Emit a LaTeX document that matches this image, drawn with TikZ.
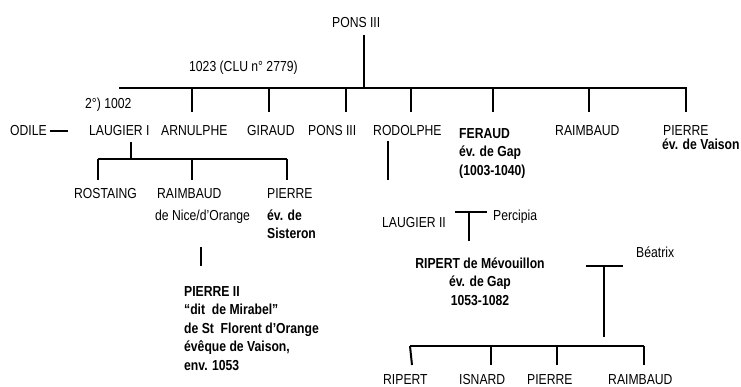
\documentclass[tikz,border=0pt]{standalone}
\usepackage{fontspec}
\setmainfont{Liberation Sans}[FakeStretch=0.84]
\begin{document}
\begin{tikzpicture}[x=1pt,y=-1pt,
  lbl/.style={inner sep=0pt,anchor=base west,align=left,font=\fontsize{14.5}{18.5}\selectfont},
  blbl/.style={lbl,font=\fontsize{14.5}{18.5}\selectfont\bfseries},
  tree/.style={line width=2pt},
  thin/.style={line width=1.3pt}]
\useasboundingbox[fill=white] (0,0) rectangle (741,386);
% ---- texts (multi-line nodes are placed by their last baseline) ----
\node[lbl] (pons0) at (332,27) {PONS III};
\node[lbl] (d1023) at (189,71) {1023 (CLU n° 2779)};
\node[lbl] (d1002) at (85,108) {2°) 1002};
\node[lbl] (odile) at (10,135.5) {ODILE};
\node[lbl] (laug1) at (89,135.5) {LAUGIER I};
\node[lbl] (arnul) at (161,135.5) {ARNULPHE};
\node[lbl] (girau) at (247,135.5) {GIRAUD};
\node[lbl] (pons3) at (308,135.5) {PONS III};
\node[lbl] (rodol) at (373,135.5) {RODOLPHE};
\node[blbl] (ferau) at (459,175) {FERAUD\\év. de Gap\\(1003-1040)};
\node[lbl] (raim1) at (555,135.5) {RAIMBAUD};
\node[lbl] (pier1) at (663,135.5) {PIERRE};
\node[blbl] (vaiso) at (662,149.5) {év. de Vaison};
\node[lbl] (rosta) at (74,198) {ROSTAING};
\node[lbl] (raim2) at (157,198) {RAIMBAUD};
\node[lbl] (nice) at (155,220) {de Nice/d’Orange};
\node[lbl] (pier2) at (267,198) {PIERRE};
\node[blbl] (siste) at (267,238.5) {év. de\\Sisteron};
\node[blbl] (pierII) at (184,370) {PIERRE II\\“dit~~de Mirabel”\\de St~~Florent d’Orange\\évêque de Vaison,\\env. 1053};
\node[lbl] (laug2) at (382,227) {LAUGIER II};
\node[lbl] (percip) at (493,220) {Percipia};
\node[blbl,anchor=base,align=center] (ripert) at (480,305) {RIPERT de Mévouillon\\év. de Gap\\1053-1082};
\node[lbl] (beatr) at (636,257) {Béatrix};
\node[lbl] (rip2) at (383,384) {RIPERT};
\node[lbl] (isnar) at (459,384) {ISNARD};
\node[lbl] (pier3) at (527,384) {PIERRE};
\node[lbl] (raim3) at (608,384) {RAIMBAUD};
% ---- coordinates ----
\coordinate (pTop) at (364,35);
\coordinate (b1L) at (119,88);
\coordinate (b1R) at (687,88);
\coordinate (dArn) at (192,112);
\coordinate (dGir) at (269,112);
\coordinate (dPon) at (346,112);
\coordinate (dRod) at (411,112);
\coordinate (dFer) at (493,112);
\coordinate (dRai) at (589,112);
\coordinate (dPie) at (686,112);
\coordinate (oA) at (50,131);
\coordinate (oB) at (68,131);
\coordinate (lTop) at (131,142);
\coordinate (b2L) at (98,159);
\coordinate (b2R) at (287,159);
\coordinate (dRos) at (98,180);
\coordinate (dRa2) at (192,180);
\coordinate (dPi2) at (287,180);
\coordinate (rA) at (201,247);
\coordinate (rB) at (201,266);
\coordinate (roA) at (388,141);
\coordinate (roB) at (388,180);
\coordinate (t1L) at (455,212);
\coordinate (t1R) at (487,212);
\coordinate (t1B) at (469,241);
\coordinate (t2L) at (586,266);
\coordinate (t2R) at (623,266);
\coordinate (t2B) at (604,337);
\coordinate (b3L) at (410,346);
\coordinate (b3R) at (644,346);
\coordinate (dRi3) at (412,365);
\coordinate (dIs3) at (491,365);
\coordinate (dPi3) at (557,365);
\coordinate (dRa3) at (644,365);
% ---- connectors ----
\draw[tree] (pTop) -- (pTop |- b1L);
\draw[tree] (b1L) -- (b1R);
\foreach \c in {dArn,dGir,dPon,dRod,dFer,dRai,dPie}
  \draw[tree] (\c |- b1L) -- (\c);
\draw[thin] (oA) -- (oB);
\draw[tree] (lTop) -- (lTop |- b2L);
\draw[tree] (b2L) -- (b2R);
\foreach \c in {dRos,dRa2,dPi2}
  \draw[tree] (\c |- b2L) -- (\c);
\draw[tree] (rA) -- (rB);
\draw[tree] (roA) -- (roB);
\draw[tree] (t1L) -- (t1R);
\draw[tree] (t1B |- t1L) -- (t1B);
\draw[tree] (t2L) -- (t2R);
\draw[tree] (t2B |- t2L) -- (t2B);
\draw[tree] (b3L) -- (b3R);
\draw[tree] (b3L) -- (dRi3);
\foreach \c in {dIs3,dPi3,dRa3}
  \draw[tree] (\c |- b3L) -- (\c);
\end{tikzpicture}
\end{document}
